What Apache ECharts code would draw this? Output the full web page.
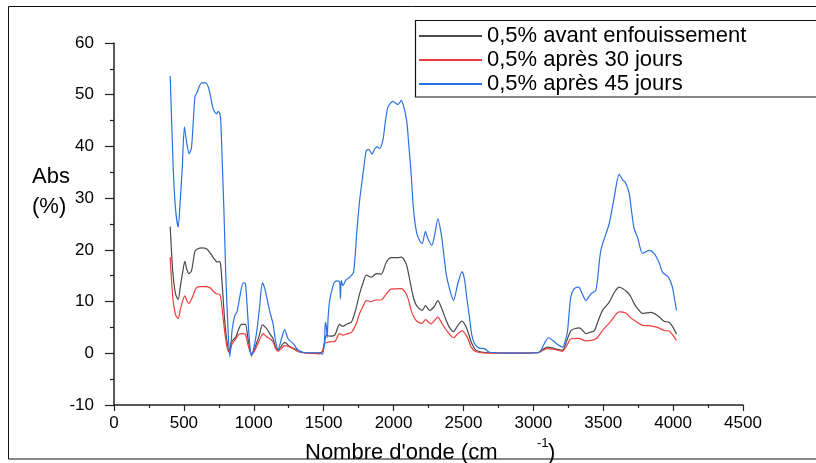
<!DOCTYPE html>
<html><head><meta charset="utf-8">
<script src="https://cdn.jsdelivr.net/npm/echarts@6/dist/echarts.min.js"></script>
<style>html,body{margin:0;padding:0;background:#fff}#c{width:816px;height:463px}</style>
</head><body><div id="c"></div>
<script>
const seriesNames = ['0,5% avant enfouissement', '0,5% après 30 jours', '0,5% après 45 jours'];
const xTicks = [0, 500, 1000, 1500, 2000, 2500, 3000, 3500, 4000, 4500];
const yTicks = [-10, 0, 10, 20, 30, 40, 50, 60];

const avant = [[402,24.5],[420,16],[440,11.5],[459,10.4],[475,13],[490,15.5],[507,17.8],[520,16.3],[536,15.4],[555,16],[579,19.7],[600,20.2],[626,20.4],[662,20.2],[690,19.3],[721,18.1],[740,17.6],[752,17.8],[762,17.3],[775,13],[790,7],[805,3],[824,0.2],[836,1.8],[848,2.5],[871,3.1],[890,4.5],[912,5.6],[940,5.6],[955,3.5],[970,1],[983,-0.1],[1000,0.5],[1019,1.9],[1040,3.5],[1062,5.5],[1091,4.8],[1115,3.8],[1138,2.8],[1155,1.3],[1174,0.6],[1200,1.5],[1221,2.1],[1257,1.3],[1317,0.6],[1364,0.1],[1471,0.04],[1495,0.5],[1519,3.5],[1543,3.3],[1579,3.5],[1614,5.6],[1638,5.2],[1670,5.7],[1698,6.0],[1730,8.5],[1757,11.5],[1780,13.5],[1805,15.1],[1840,14.7],[1876,15.4],[1912,15.3],[1948,17.6],[1983,18.5],[2031,18.5],[2055,18.6],[2090,17.3],[2110,15],[2126,12.8],[2145,10.5],[2167,9.1],[2205,8.3],[2228,9.2],[2257,8.3],[2290,9],[2317,10.2],[2341,8.9],[2376,6.4],[2400,5],[2429,4.2],[2460,5.4],[2490,6.2],[2519,5.1],[2540,3.5],[2555,2.2],[2590,0.6],[2686,0.1],[2900,0.05],[3031,0.1],[3070,0.8],[3102,1.2],[3140,1],[3180,0.7],[3209,0.6],[3240,2.5],[3269,4.4],[3300,4.8],[3329,4.9],[3350,4.5],[3376,3.8],[3400,4],[3436,4.4],[3460,6],[3495,8.3],[3543,9.9],[3580,11.8],[3614,12.8],[3640,12.5],[3674,11.8],[3700,10.8],[3721,9.6],[3750,8.5],[3781,7.7],[3810,7.8],[3840,7.9],[3888,7.3],[3936,6.2],[3971,6.0],[3995,5.2],[4024,3.7]];

const apres30 = [[402,18.6],[420,11],[440,7.5],[459,6.7],[475,8.5],[490,10],[507,11.1],[520,10.3],[536,9.6],[560,10.8],[590,12.7],[620,12.9],[650,12.9],[686,12.7],[710,12],[733,11.5],[757,11.4],[765,10.5],[780,7],[795,3.5],[810,1],[824,0.2],[845,1.8],[864,2.5],[895,3.7],[920,3.8],[940,3.7],[960,1.5],[983,-0.3],[1000,0.2],[1019,1.2],[1040,2.5],[1067,3.8],[1091,3.2],[1115,2.8],[1138,2.2],[1155,1],[1174,0.4],[1200,1],[1221,1.5],[1269,1.1],[1317,0.3],[1364,0.05],[1471,-0.1],[1490,0.3],[1507,1.9],[1543,2.2],[1580,2.3],[1614,3.8],[1638,3.5],[1670,3.8],[1698,4.0],[1730,5.5],[1757,7.7],[1780,9],[1805,10.2],[1840,10],[1876,10.3],[1912,10.3],[1948,11.5],[1983,12.4],[2055,12.5],[2090,11.5],[2110,10],[2126,8.3],[2145,7],[2167,6.2],[2205,5.8],[2228,6.5],[2269,5.7],[2317,7.0],[2345,5.8],[2388,4.1],[2429,3.0],[2460,3.8],[2490,4.4],[2519,3.5],[2540,2.3],[2555,1.2],[2590,0.3],[2686,0.05],[2900,0.05],[3031,0.1],[3070,0.6],[3102,0.9],[3140,0.8],[3209,0.4],[3240,1.5],[3269,2.8],[3324,2.9],[3376,2.4],[3448,2.8],[3495,4.4],[3555,6.2],[3614,8.0],[3662,7.8],[3690,7],[3721,6.4],[3781,5.4],[3840,5.3],[3888,5.0],[3936,4.4],[3971,4.3],[3995,3.6],[4024,2.5]];

const apres45 = [[402,53.6],[424,35.7],[440,28],[459,24.4],[475,30],[488,35.7],[504,43.8],[519,40.9],[538,38.6],[555,39.9],[579,49.6],[595,50.5],[626,52.3],[657,52.3],[681,50.9],[709,47.3],[733,46.3],[747,46.8],[762,45.7],[776,35.7],[786,28],[800,15],[815,5],[829,-0.7],[845,4.5],[864,7.3],[880,8],[900,10.9],[924,13.6],[940,13.5],[955,8],[970,2],[983,-0.6],[1000,1],[1019,3.8],[1040,8.5],[1062,13.6],[1079,12.5],[1102,9.6],[1120,7.5],[1138,5.7],[1155,2.5],[1174,0.75],[1200,3],[1221,4.6],[1245,2.8],[1281,1.9],[1317,0.6],[1364,0.1],[1420,0.1],[1471,0.1],[1491,-0.2],[1505,2],[1512,6],[1519,5.2],[1525,3],[1532,7],[1543,10.2],[1567,13.1],[1579,13.8],[1602,14.0],[1614,13.8],[1620,10.5],[1626,14.1],[1638,13.1],[1660,14.2],[1686,14.7],[1714,15.7],[1738,23.8],[1757,29.5],[1769,32.1],[1790,36.5],[1805,39.2],[1824,39.4],[1845,38.5],[1865,39.5],[1883,39.9],[1900,39.6],[1924,41.2],[1940,44.5],[1960,47.6],[1995,48.7],[2031,48.1],[2045,48.5],[2055,48.9],[2075,47.5],[2095,44.7],[2110,40],[2126,34.7],[2138,29.5],[2150,26],[2167,23.1],[2186,21.8],[2205,21.2],[2228,23.6],[2245,22.2],[2274,20.9],[2295,23],[2317,26.0],[2341,23.1],[2360,19],[2376,15.4],[2400,12.5],[2429,10.2],[2460,13.5],[2490,15.8],[2507,14.4],[2525,10.5],[2543,7.0],[2560,3.5],[2579,1.9],[2614,1.0],[2650,0.9],[2686,0.2],[2800,0.05],[2900,0.05],[3000,0.1],[3043,0.2],[3079,1.9],[3109,3.0],[3138,2.5],[3174,1.7],[3209,1.2],[3230,2.5],[3245,4.4],[3260,9],[3269,11],[3293,12.5],[3324,12.8],[3350,11.5],[3376,10.2],[3412,11.5],[3448,12.2],[3483,19.9],[3543,25.1],[3579,30.2],[3614,34.6],[3640,33.5],[3657,33.1],[3686,30.9],[3700,28],[3721,24.1],[3745,22.5],[3781,19.3],[3810,19.7],[3829,19.9],[3864,19.3],[3900,17.5],[3924,15.7],[3967,14.7],[3995,12.8],[4010,10.5],[4024,8.3]];

const colors = ['#4a4a4a', '#f03c3c', '#2a72e0'];
const font = 'Liberation Sans, Arial, sans-serif';

const chart = echarts.init(document.getElementById('c'), null, {renderer: 'canvas'});
const mk = (name, data, color) => ({
  name, type: 'line', data, smooth: 0.25, showSymbol: false, symbol: 'none',
  lineStyle: {color, width: 1.2}, itemStyle: {color}, z: 3
});
chart.setOption({
  animation: false,
  backgroundColor: '#fff',
  color: colors,
  grid: {left: 114, right: 73, top: 43, bottom: 58, containLabel: false},
  xAxis: {
    type: 'value', min: xTicks[0], max: xTicks[xTicks.length - 1], interval: 500,
    axisLine: {onZero: false, lineStyle: {color: '#222', width: 1.5}},
    axisTick: {show: true, length: 6, lineStyle: {color: '#222', width: 1.2}},
    minorTick: {show: true, splitNumber: 2, length: 3, lineStyle: {color: '#222', width: 1.2}},
    splitLine: {show: false},
    axisLabel: {color: '#000', fontSize: 17, fontFamily: font, margin: 10, formatter: v => String(v)}
  },
  yAxis: {
    type: 'value', min: yTicks[0], max: yTicks[yTicks.length - 1], interval: 10,
    axisLine: {show: true, onZero: false, lineStyle: {color: '#222', width: 1.5}},
    axisTick: {show: true, length: 9, lineStyle: {color: '#222', width: 1.2}},
    minorTick: {show: true, splitNumber: 2, length: 4, lineStyle: {color: '#222', width: 1.2}},
    splitLine: {show: false},
    axisLabel: {color: '#000', fontSize: 17, fontFamily: font, margin: 20, formatter: v => String(v)}
  },
  legend: {
    orient: 'vertical', left: 419, top: 24, padding: 0, itemGap: 0,
    itemWidth: 63, itemHeight: 2, icon: 'rect', z: 10,
    data: seriesNames,
    textStyle: {color: '#000', fontSize: 22, fontFamily: font, lineHeight: 24}
  },
  graphic: [
    {type: 'rect', z: 0, shape: {x: 8.5, y: 6.5, width: 900, height: 452.5}, style: {fill: 'none', stroke: '#111', lineWidth: 1}},
    {type: 'rect', z: 5, shape: {x: 415.5, y: 20.5, width: 420, height: 76.5}, style: {fill: '#fff', stroke: '#111', lineWidth: 1.2}},
    {type: 'text', z: 6, left: 32, top: 166, style: {text: 'Abs', fontSize: 22, fontFamily: font, fill: '#000'}},
    {type: 'text', z: 6, left: 32, top: 196, style: {text: '(%)', fontSize: 22, fontFamily: font, fill: '#000'}},
    {type: 'text', z: 6, left: 305, top: 442, style: {text: "Nombre d'onde (cm", fontSize: 22, fontFamily: font, fill: '#000'}},
    {type: 'text', z: 6, left: 537, top: 437, style: {text: '-1', fontSize: 13, fontFamily: font, fill: '#000'}},
    {type: 'text', z: 6, left: 548, top: 442, style: {text: ')', fontSize: 22, fontFamily: font, fill: '#000'}}
  ],
  series: [
    mk(seriesNames[0], avant, colors[0]),
    mk(seriesNames[1], apres30, colors[1]),
    mk(seriesNames[2], apres45, colors[2])
  ]
});
</script></body></html>
